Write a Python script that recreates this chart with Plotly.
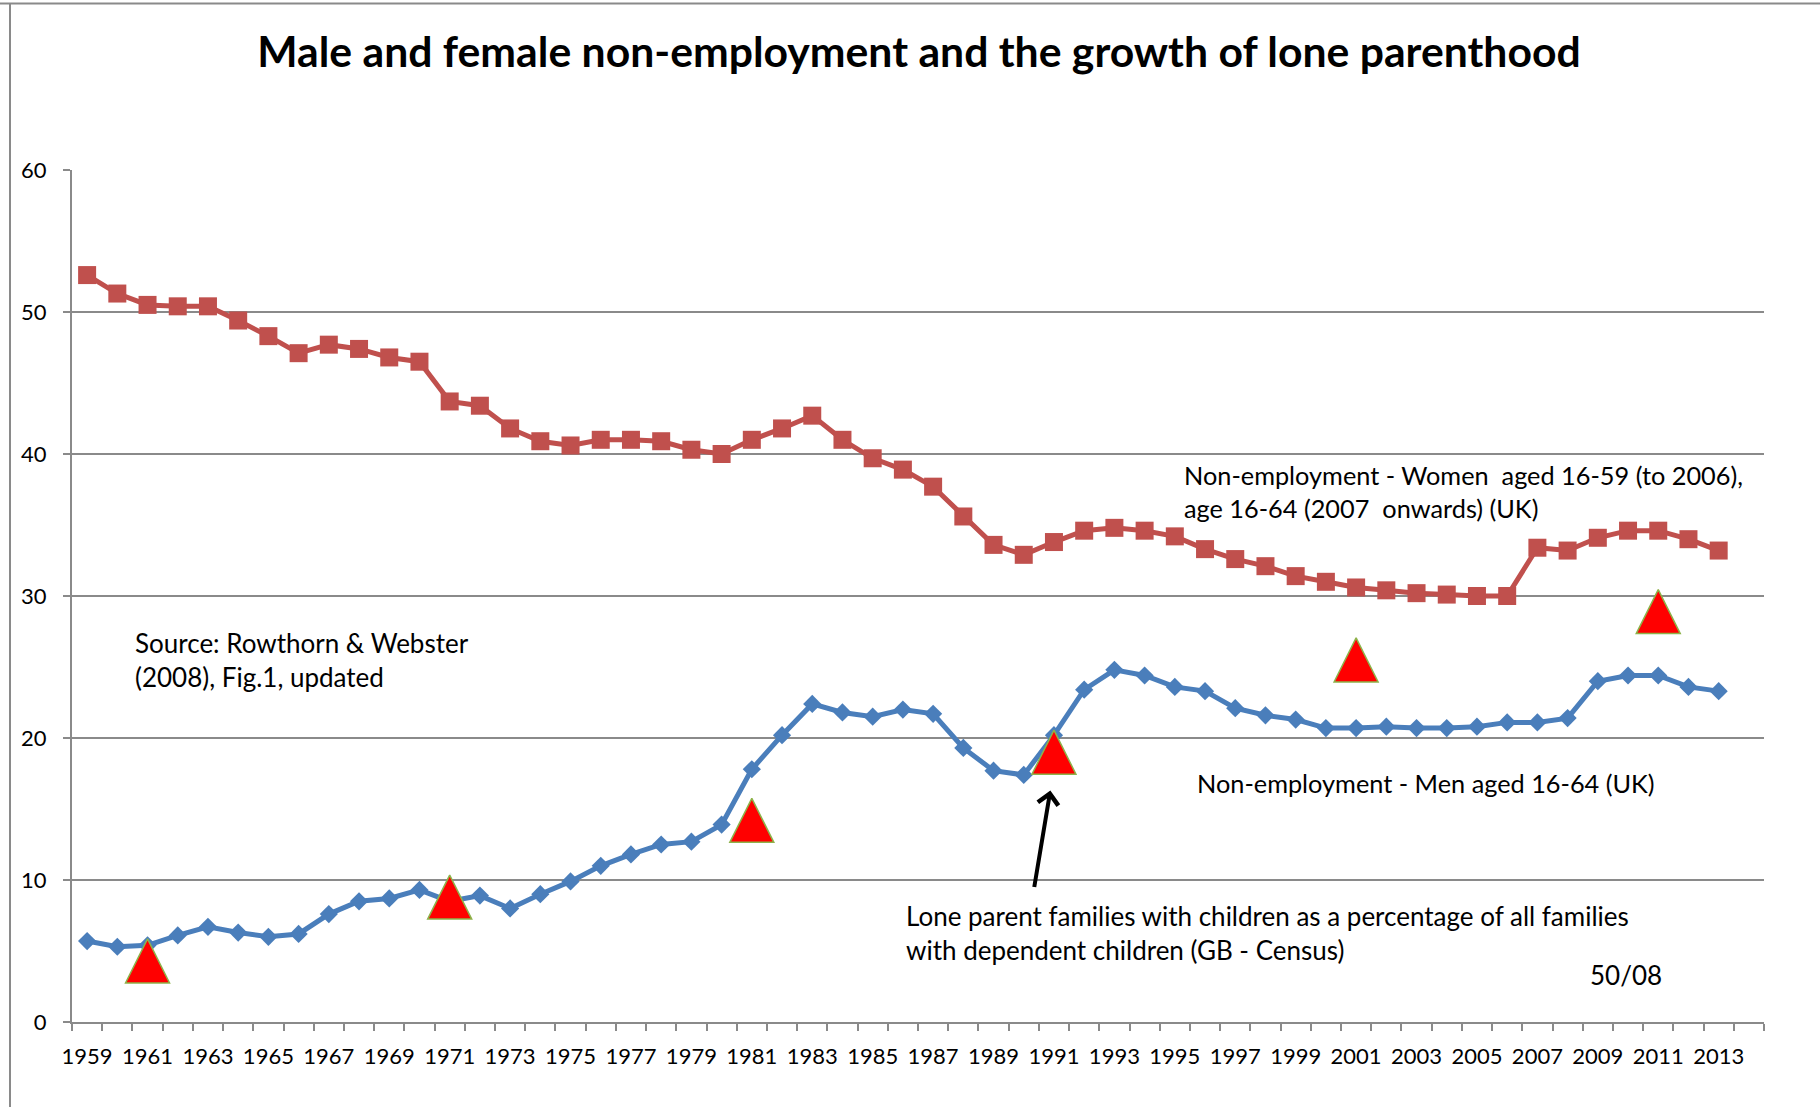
import plotly.graph_objects as go

# ---------------- data ----------------
years = list(range(1959, 2014))
women = [52.6, 51.3, 50.5, 50.4, 50.4, 49.4, 48.3, 47.1, 47.7, 47.4,
         46.8, 46.5, 43.7, 43.4, 41.8, 40.9, 40.6, 41.0, 41.0, 40.9,
         40.3, 40.0, 41.0, 41.8, 42.7, 41.0, 39.7, 38.9, 37.7, 35.6,
         33.6, 32.9, 33.8, 34.6, 34.8, 34.6, 34.2, 33.3, 32.6, 32.1,
         31.4, 31.0, 30.6, 30.4, 30.2, 30.1, 30.0, 30.0, 33.4, 33.2,
         34.1, 34.6, 34.6, 34.0, 33.2]
men = [5.7, 5.3, 5.4, 6.1, 6.7, 6.3, 6.0, 6.2, 7.6, 8.5,
       8.7, 9.3, 8.5, 8.9, 8.0, 9.0, 9.9, 11.0, 11.8, 12.5,
       12.7, 13.9, 17.8, 20.2, 22.4, 21.8, 21.5, 22.0, 21.7, 19.3,
       17.7, 17.4, 20.2, 23.4, 24.8, 24.4, 23.6, 23.3, 22.1, 21.6,
       21.3, 20.7, 20.7, 20.8, 20.7, 20.7, 20.8, 21.1, 21.1, 21.4,
       24.0, 24.4, 24.4, 23.6, 23.3]
census_years = [1961, 1971, 1981, 1991, 2001, 2011]
lone_parent = [4.3, 8.8, 14.2, 19.0, 25.5, 28.9]
label_years = list(range(1959, 2014, 2))
y_ticks = [0, 10, 20, 30, 40, 50, 60]

FONT = "Lato, 'Open Sans', sans-serif"
GRID = "#8a8a8a"

fig = go.Figure()
fig.add_trace(go.Scatter(
    x=years, y=women, mode="lines+markers",
    line=dict(color="#C0504D", width=5),
    marker=dict(symbol="square", size=18, color="#C0504D", line=dict(width=0)),
    showlegend=False, name="Women"))
fig.add_trace(go.Scatter(
    x=years, y=men, mode="lines+markers",
    line=dict(color="#4A7EBB", width=5),
    marker=dict(symbol="diamond", size=14, color="#4A7EBB", line=dict(width=0)),
    showlegend=False, name="Men"))
fig.add_trace(go.Scatter(
    x=census_years, y=lone_parent, mode="markers",
    marker=dict(symbol="arrow-down", angle=180, standoff=22, size=44,
                color="#FF0000", line=dict(color="#8DB34A", width=1.5)),
    showlegend=False, name="Lone parents"))

# plot area pixel geometry helpers
L, R, T, B = 72, 56, 170, 85
W, H = 1820, 1107
pw, ph = W - L - R, H - T - B
def px(x):
    return (x - L) / pw
def py(y):
    return (H - B - y) / ph

txt = dict(family=FONT, size=26, color="black")
txt2 = dict(family=FONT, size=25.3, color="black")
ann = [
    dict(text="Non-employment - Women  aged 16-59 (to 2006),<br>age 16-64 (2007  onwards) (UK)",
         x=px(1182), y=py(491), xanchor="left", yanchor="middle", align="left", font=txt2),
    dict(text="Source: Rowthorn & Webster<br>(2008), Fig.1, updated",
         x=px(133), y=py(660), xanchor="left", yanchor="middle", align="left", font=txt),
    dict(text="Non-employment - Men aged 16-64 (UK)",
         x=px(1195), y=py(783), xanchor="left", yanchor="middle", align="left", font=txt2),
    dict(text="Lone parent families with children as a percentage of all families<br>with dependent children (GB - Census)",
         x=px(904), y=py(933), xanchor="left", yanchor="middle", align="left", font=txt),
    dict(text="50/08", x=px(1626), y=py(975), xanchor="center", yanchor="middle", font=txt),
]
annotations = []
for a in ann:
    a.update(xref="paper", yref="paper", showarrow=False)
    annotations.append(a)
annotations.append(dict(
    x=1990.88, y=16.3, ax=1990.34, ay=9.4, xref="x", yref="y", axref="x", ayref="y",
    text="", showarrow=True, arrowhead=4, arrowsize=1.0, arrowwidth=4, arrowcolor="black"))

fig.update_layout(
    width=W, height=H,
    margin=dict(l=L, r=R, t=T, b=B),
    paper_bgcolor="white", plot_bgcolor="white",
    font=dict(family=FONT, color="black"),
    title=dict(text="<b>Male and female non-employment and the growth of lone parenthood</b>",
               x=919 / W, xanchor="center", y=1 - 52 / H, yanchor="middle",
               font=dict(family=FONT, size=42.7, color="black")),
    annotations=annotations,
    shapes=[
        dict(type="line", xref="paper", yref="paper", x0=px(0), x1=px(W), y0=py(3.5), y1=py(3.5),
             line=dict(color=GRID, width=2)),
        dict(type="line", xref="paper", yref="paper", x0=px(10), x1=px(10), y0=py(3.5), y1=py(H),
             line=dict(color=GRID, width=2)),
    ],
)
fig.update_xaxes(
    range=[1958.5, 2014.5], showgrid=False, zeroline=False,
    showline=True, linecolor=GRID, linewidth=2,
    tickmode="array", tickvals=label_years, ticktext=[str(v) for v in label_years],
    ticks="", ticklabelstandoff=14,
    tickfont=dict(family=FONT, size=22, color="black"),
    minor=dict(ticks="outside", ticklen=7, tickwidth=2, tickcolor=GRID,
               tick0=1958.5, dtick=1, showgrid=False),
)
fig.update_yaxes(
    range=[0, 60], tickmode="array", tickvals=y_ticks,
    showgrid=True, gridcolor=GRID, gridwidth=2, zeroline=False,
    showline=True, linecolor=GRID, linewidth=2,
    ticks="outside", ticklen=7, tickwidth=2, tickcolor=GRID, ticklabelstandoff=12,
    tickfont=dict(family=FONT, size=22, color="black"),
)

fig.write_html("out.html", config={"displayModeBar": False},
               post_script="document.body.style.margin='0';")
